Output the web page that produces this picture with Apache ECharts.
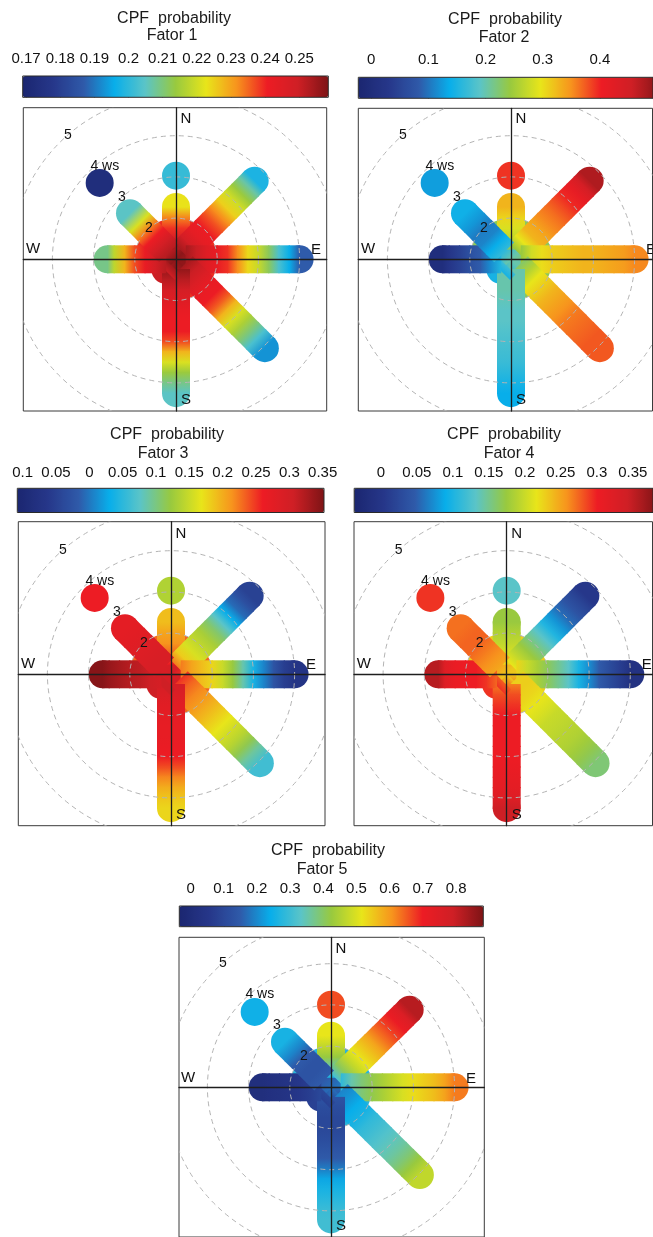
<!DOCTYPE html>
<html>
<head>
<meta charset="utf-8">
<title>CPF probability - Fator 1-5</title>
<script src="https://cdn.jsdelivr.net/npm/echarts@6.0.0/dist/echarts.min.js"></script>
<style>
  html, body { margin: 0; padding: 0; background: #fff; }
  #chart { width: 653px; height: 1237px; }
</style>
</head>
<body>
<div id="chart"></div>
<script>
// ---- data ----
const directions = ['N', 'NE', 'E', 'SE', 'S', 'SW', 'W', 'NW'];
const bearings = [0, 45, 90, 135, 180, 225, 270, 315];

// wind speed of each point along a direction (ws 1 sits on the centre)
const wsBins = {
  N:  [1.25, 1.5, 1.75, 2, 2.27, 3.03],
  NE: [1.25, 1.5, 1.75, 2, 2.25, 2.5, 2.75, 3, 3.25, 3.5, 3.7],
  E:  [1.25, 1.5, 1.75, 2, 2.25, 2.5, 2.75, 3, 3.25, 3.5, 3.75, 4],
  SE: [1.25, 1.5, 1.75, 2, 2.25, 2.5, 2.75, 3, 3.25, 3.5, 3.75, 4.05],
  S:  [1.25, 1.5, 1.75, 2, 2.25, 2.5, 2.75, 3, 3.25, 3.5, 3.75, 4, 4.25],
  SW: [1.2, 1.36],
  W:  [1.25, 1.5, 1.75, 2, 2.25, 2.5, 2.66],
  NW: [1.25, 1.5, 1.75, 2, 2.25, 2.58, 3.62]
};

const ringWs = [2, 3, 4, 5];
const ringLabels = ['2', '3', '4 ws', '5'];
const compassLabels = ['N', 'E', 'S', 'W'];

// CPF value at the calm centre of each plot
const centreValues = [0.257, 0.194, 0.297, 0.229, 0.168];

const fator1 = {
  N:  [0.254, 0.248, 0.239, 0.233, 0.223, 0.201],
  NE: [0.254, 0.248, 0.243, 0.241, 0.237, 0.232, 0.225, 0.220, 0.214, 0.207, 0.198],
  E:  [0.254, 0.250, 0.245, 0.242, 0.239, 0.232, 0.224, 0.219, 0.212, 0.203, 0.196, 0.187],
  SE: [0.254, 0.250, 0.246, 0.242, 0.241, 0.236, 0.228, 0.221, 0.216, 0.210, 0.203, 0.193],
  S:  [0.256, 0.252, 0.248, 0.245, 0.242, 0.241, 0.241, 0.237, 0.228, 0.221, 0.214, 0.209, 0.205],
  SW: [0.254, 0.250],
  W:  [0.252, 0.248, 0.242, 0.237, 0.228, 0.218, 0.209],
  NW: [0.252, 0.248, 0.241, 0.233, 0.221, 0.205, 0.173]
};
const fator2 = {
  N:  [0.225, 0.261, 0.277, 0.297, 0.318, 0.380],
  NE: [0.235, 0.287, 0.318, 0.328, 0.343, 0.354, 0.369, 0.385, 0.400, 0.431, 0.462],
  E:  [0.235, 0.271, 0.292, 0.302, 0.307, 0.313, 0.318, 0.318, 0.323, 0.328, 0.333, 0.343],
  SE: [0.220, 0.251, 0.287, 0.302, 0.318, 0.328, 0.338, 0.349, 0.354, 0.359, 0.364, 0.364],
  S:  [0.194, 0.194, 0.194, 0.189, 0.184, 0.184, 0.178, 0.173, 0.168, 0.163, 0.153, 0.142, 0.132],
  SW: [0.163, 0.142],
  W:  [0.148, 0.111, 0.081, 0.065, 0.044, 0.024, 0.003],
  NW: [0.158, 0.132, 0.106, 0.101, 0.117, 0.137, 0.122]
};
const fator3 = {
  N:  [0.260, 0.232, 0.214, 0.205, 0.191, 0.136],
  NE: [0.223, 0.182, 0.159, 0.145, 0.131, 0.108, 0.076, 0.030, -0.007, -0.030, -0.048],
  E:  [0.223, 0.205, 0.191, 0.177, 0.150, 0.122, 0.085, 0.039, 0.007, -0.025, -0.053, -0.071],
  SE: [0.251, 0.232, 0.219, 0.209, 0.196, 0.182, 0.168, 0.154, 0.140, 0.117, 0.090, 0.062],
  S:  [0.297, 0.288, 0.278, 0.274, 0.269, 0.269, 0.265, 0.260, 0.242, 0.219, 0.200, 0.186, 0.177],
  SW: [0.306, 0.306],
  W:  [0.297, 0.306, 0.315, 0.320, 0.329, 0.338, 0.347],
  NW: [0.292, 0.292, 0.288, 0.283, 0.278, 0.274, 0.260]
};
const fator4 = {
  N:  [0.220, 0.204, 0.191, 0.183, 0.171, 0.129],
  NE: [0.212, 0.191, 0.171, 0.150, 0.129, 0.100, 0.075, 0.054, 0.038, 0.021, 0.005],
  E:  [0.220, 0.195, 0.179, 0.162, 0.146, 0.129, 0.096, 0.071, 0.046, 0.029, 0.013, -0.008],
  SE: [0.224, 0.224, 0.220, 0.212, 0.204, 0.195, 0.191, 0.187, 0.183, 0.175, 0.166, 0.154],
  S:  [0.262, 0.278, 0.287, 0.295, 0.295, 0.295, 0.295, 0.295, 0.299, 0.303, 0.307, 0.316, 0.337],
  SW: [0.274, 0.287],
  W:  [0.270, 0.287, 0.295, 0.295, 0.299, 0.316, 0.349],
  NW: [0.245, 0.254, 0.262, 0.270, 0.270, 0.266, 0.287]
};
const fator5 = {
  N:  [0.268, 0.351, 0.424, 0.470, 0.516, 0.662],
  NE: [0.314, 0.406, 0.470, 0.516, 0.552, 0.589, 0.635, 0.671, 0.708, 0.754, 0.818],
  E:  [0.287, 0.351, 0.387, 0.415, 0.442, 0.470, 0.497, 0.525, 0.543, 0.561, 0.589, 0.626],
  SE: [0.195, 0.213, 0.241, 0.259, 0.287, 0.305, 0.323, 0.342, 0.360, 0.387, 0.424, 0.470],
  S:  [0.131, 0.113, 0.103, 0.103, 0.113, 0.131, 0.149, 0.186, 0.232, 0.259, 0.277, 0.296, 0.305],
  SW: [0.103, 0.085],
  W:  [0.103, 0.076, 0.058, 0.039, 0.030, 0.021, 0.012],
  NW: [0.149, 0.131, 0.131, 0.149, 0.195, 0.259, 0.250]
};
const fatorValues = [fator1, fator2, fator3, fator4, fator5];
const fatorNames = ['Fator 1', 'Fator 2', 'Fator 3', 'Fator 4', 'Fator 5'];

// colour bar ranges and tick labels
const cbRanges = [[0.169, 0.2585], [-0.0227, 0.493], [-0.108, 0.352], [-0.037, 0.378], [-0.034, 0.882]];
const cbTicks1 = [0.17, 0.18, 0.19, 0.2, 0.21, 0.22, 0.23, 0.24, 0.25];
const cbLabels1 = ['0.17', '0.18', '0.19', '0.2', '0.21', '0.22', '0.23', '0.24', '0.25'];
const cbTicks2 = [0, 0.1, 0.2, 0.3, 0.4];
const cbLabels2 = ['0', '0.1', '0.2', '0.3', '0.4'];
const cbTicks3 = [-0.1, -0.05, 0, 0.05, 0.1, 0.15, 0.2, 0.25, 0.3, 0.35];
const cbLabels3 = ['0.1', '0.05', '0', '0.05', '0.1', '0.15', '0.2', '0.25', '0.3', '0.35'];
const cbTicks4 = [0, 0.05, 0.1, 0.15, 0.2, 0.25, 0.3, 0.35];
const cbLabels4 = ['0', '0.05', '0.1', '0.15', '0.2', '0.25', '0.3', '0.35'];
const cbTicks5 = [0, 0.1, 0.2, 0.3, 0.4, 0.5, 0.6, 0.7, 0.8];
const cbLabels5 = ['0', '0.1', '0.2', '0.3', '0.4', '0.5', '0.6', '0.7', '0.8'];
const cbTicks = [cbTicks1, cbTicks2, cbTicks3, cbTicks4, cbTicks5];
const cbLabels = [cbLabels1, cbLabels2, cbLabels3, cbLabels4, cbLabels5];

// ---- layout (px) ----
const panels = [
  { cx: 176, cy: 259.3, box: [23.3, 107.7, 326.7, 411], bar: [22.7, 76, 328.3, 97.3], tx: [174, 172], ty: [19, 36], lm: 10 },
  { cx: 511, cy: 259.3, box: [358.3, 108.3, 652.5, 411], bar: [358.3, 77.3, 662, 98.3], tx: [505, 504], ty: [20, 37.5], lm: 10 },
  { cx: 171, cy: 674.3, box: [18.3, 521.7, 325, 825.7], bar: [17.3, 488.3, 324, 512.5], tx: [167, 163], ty: [435, 453.5], lm: 8 },
  { cx: 506.7, cy: 674.3, box: [354, 521.7, 652.5, 825.7], bar: [354.2, 488.3, 658, 512.5], tx: [504, 509], ty: [435, 453.5], lm: 8 },
  { cx: 331, cy: 1089.3, box: [179, 937.3, 484.3, 1241], bar: [179.3, 906, 483.3, 926.7], tx: [328, 322], ty: [851, 869.5], lm: 10 }
];
const U = 41.2;          // px per ws unit
const STRIP = 28;        // strip width, px
const DISK_R = 1.0;      // calm disc radius, ws units
const LABEL_BEARING = 319;
const compassPos = [[0.243, 3.40], [3.40, 0.218], [0.243, -3.42], [-3.47, 0.243]];
const FONT = '"Liberation Sans", Arial, sans-serif';

const palette = ['#1b2670', '#26378a', '#2f5aa9', '#08aeea', '#5ac4c8', '#98c93f',
                 '#e8e51a', '#f7941d', '#ed1c24', '#cf1f25', '#7e1416'];

const chart = echarts.init(document.getElementById('chart'));
const option = {
  animation: false,
  backgroundColor: '#fff',
  grid: [], xAxis: [], yAxis: [], series: [], visualMap: [], graphic: []
};

function hiddenAxis (extra) {
  return Object.assign({
    type: 'value',
    axisTick: { show: false },
    axisLabel: { show: false },
    splitLine: { show: false }
  }, extra);
}

// clip rectangle of the plot box
function boxClip (params) {
  const cs = params.coordSys;
  return { type: 'rect', shape: { x: cs.x, y: cs.y, width: cs.width, height: cs.height } };
}

panels.forEach((p, i) => {
  const g = option.grid.length;
  const lo = cbRanges[i][0], hi = cbRanges[i][1];
  // same palette as the colour bar
  const colourOf = v => echarts.color.lerp(Math.min(1, Math.max(0, (v - lo) / (hi - lo))), palette);

  // plot box
  option.grid.push({
    left: p.box[0], top: p.box[1],
    width: p.box[2] - p.box[0], height: p.box[3] - p.box[1],
    show: true, borderColor: '#3a3a3a', borderWidth: 1, backgroundColor: 'transparent'
  });
  const axisLine = { show: true, onZero: true, lineStyle: { color: '#1e1e1e', width: 1.3 } };
  option.xAxis.push(hiddenAxis({
    gridIndex: g, z: 5, axisLine: axisLine,
    min: (p.box[0] - p.cx) / U, max: (p.box[2] - p.cx) / U
  }));
  option.yAxis.push(hiddenAxis({
    gridIndex: g, z: 5, axisLine: axisLine,
    min: (p.cy - p.box[3]) / U, max: (p.cy - p.box[1]) / U
  }));

  // colour bar frame + ticks
  const cg = g + 1;
  const ticks = cbTicks[i], labels = cbLabels[i];
  option.grid.push({
    left: p.bar[0], top: p.bar[1],
    width: p.bar[2] - p.bar[0], height: p.bar[3] - p.bar[1],
    show: true, borderColor: '#2a2a2a', borderWidth: 1, backgroundColor: 'transparent', z: 5
  });
  option.xAxis.push({
    gridIndex: cg, type: 'value', position: 'top', min: lo, max: hi,
    axisLine: { show: false },
    axisTick: { show: true, length: 6, customValues: ticks, lineStyle: { color: '#333' } },
    axisLabel: {
      customValues: ticks, margin: p.lm, fontSize: 15, fontFamily: FONT, color: '#111',
      formatter: v => labels[ticks.findIndex(t => Math.abs(t - v) < 1e-9)]
    },
    splitLine: { show: false }
  });
  option.yAxis.push({ gridIndex: cg, type: 'value', min: 0, max: 1, show: false });

  // dashed ws rings + their labels
  option.series.push({
    type: 'custom', xAxisIndex: g, yAxisIndex: g, z: 4, silent: true,
    data: ringWs.map(w => [0, 0, w - 1]),
    encode: { x: 0, y: 1 },
    renderItem: (params, api) => {
      const k = params.dataIndex;
      const c = api.coord([0, 0]);
      const rad = api.size([api.value(2), 0])[0];
      const a = LABEL_BEARING * Math.PI / 180;
      const lx = c[0] + rad * Math.sin(a), ly = c[1] - rad * Math.cos(a);
      const wide = ringLabels[k].length > 1;
      return {
        type: 'group',
        clipPath: boxClip(params),
        children: [
          { type: 'circle', shape: { cx: c[0], cy: c[1], r: rad },
            style: { fill: 'none', stroke: '#b4b4b4', lineWidth: 1, lineDash: [5, 4] } },
          { type: 'text', x: wide ? lx - 4.5 : lx, y: ly,
            style: { text: ringLabels[k], fill: '#111', font: '14px ' + FONT,
                     align: wide ? 'left' : 'center', verticalAlign: 'middle' } }
        ]
      };
    }
  });

  // compass letters
  option.series.push({
    type: 'custom', xAxisIndex: g, yAxisIndex: g, z: 6, silent: true,
    data: compassPos,
    encode: { x: 0, y: 1 },
    renderItem: (params, api) => {
      const c = api.coord([api.value(0), api.value(1)]);
      return {
        type: 'group',
        clipPath: boxClip(params),
        children: [{ type: 'text', x: c[0], y: c[1],
          style: { text: compassLabels[params.dataIndex], fill: '#111', font: '15px ' + FONT,
                   align: 'center', verticalAlign: 'middle' } }]
      };
    }
  });

  const vals = fatorValues[i];
  // mean value where the strips leave the calm disc (ws 2)
  const edgeVals = directions.filter(d => wsBins[d].indexOf(2) >= 0).map(d => vals[d][wsBins[d].indexOf(2)]);
  const edgeMean = edgeVals.reduce((s, v) => s + v, 0) / edgeVals.length;

  // calm disc in the middle
  option.series.push({
    type: 'custom', xAxisIndex: g, yAxisIndex: g, z: 1, silent: true,
    data: [[0, 0, centreValues[i], edgeMean]],
    encode: { x: 0, y: 1 },
    renderItem: (params, api) => {
      const c = api.coord([api.value(0), api.value(1)]);
      const rad = api.size([DISK_R, 0])[0];
      return { type: 'sector',
        shape: { cx: c[0], cy: c[1], r: rad, r0: 0, startAngle: Math.PI, endAngle: Math.PI * 2.5, clockwise: true },
        style: { fill: { type: 'radial', x: c[0], y: c[1], r: rad, global: true,
          colorStops: [{ offset: 0, color: colourOf(api.value(2)) }, { offset: 1, color: colourOf(api.value(3)) }] } } };
    }
  });

  // strip pieces: from each point to the next one outward (starting at the centre)
  const inner = [], outer = [], caps = [];
  directions.forEach((d, j) => {
    const b = bearings[j] * Math.PI / 180;
    const sx = Math.sin(b), sy = Math.cos(b);
    const bins = wsBins[d];
    let prevR = 0, prevV = centreValues[i];
    bins.forEach((ws, k) => {
      const r = ws - 1;
      const v = vals[d][k];
      const gapBefore = k > 0 && ws - bins[k - 1] > 0.4;
      const gapAfter = k === bins.length - 1 || bins[k + 1] - ws > 0.4;
      if (!gapBefore) (k === 0 ? inner : outer).push([prevR * sx, prevR * sy, r * sx, r * sy, prevV, v]);
      if (gapAfter) caps.push([r * sx, r * sy, v]);
      prevR = r; prevV = v;
    });
  });
  const pieces = inner.concat(outer);

  // round ends and isolated points, coloured through the visualMap
  const capIdx = option.series.length;
  option.series.push({
    type: 'scatter', xAxisIndex: g, yAxisIndex: g, z: 2, silent: true,
    symbol: 'circle', symbolSize: STRIP,
    itemStyle: { opacity: 1 },
    emphasis: { disabled: true },
    data: caps
  });

  // straight pieces shaded from one value to the next
  option.series.push({
    type: 'custom', xAxisIndex: g, yAxisIndex: g, z: 3, silent: true,
    data: pieces,
    encode: { x: [0, 2], y: [1, 3] },
    renderItem: (params, api) => {
      const a = api.coord([api.value(0), api.value(1)]);
      const e = api.coord([api.value(2), api.value(3)]);
      const dx = e[0] - a[0], dy = e[1] - a[1];
      const len = Math.sqrt(dx * dx + dy * dy) || 1;
      const ox = dx / len * 0.6, oy = dy / len * 0.6;
      return {
        type: 'line',
        shape: { x1: a[0] - ox, y1: a[1] - oy, x2: e[0] + ox, y2: e[1] + oy },
        style: {
          lineWidth: STRIP, lineCap: 'butt',
          stroke: { type: 'linear', x: a[0], y: a[1], x2: e[0], y2: e[1], global: true,
            colorStops: [{ offset: 0, color: colourOf(api.value(4)) }, { offset: 1, color: colourOf(api.value(5)) }] }
        }
      };
    }
  });

  option.visualMap.push({
    type: 'continuous', min: lo, max: hi,
    dimension: 2, seriesIndex: [capIdx],
    orient: 'horizontal', left: p.bar[0], top: p.bar[1],
    itemWidth: p.bar[3] - p.bar[1], itemHeight: p.bar[2] - p.bar[0],
    padding: 0, calculable: false, hoverLink: false,
    inRange: { color: palette }
  });

  option.graphic.push(
    { type: 'text', x: p.tx[0], y: p.ty[0], silent: true,
      style: { text: 'CPF  probability', fill: '#1a1a1a', font: '16px ' + FONT, align: 'center', verticalAlign: 'middle' } },
    { type: 'text', x: p.tx[1], y: p.ty[1], silent: true,
      style: { text: fatorNames[i], fill: '#1a1a1a', font: '16px ' + FONT, align: 'center', verticalAlign: 'middle' } }
  );
});

chart.setOption(option);
</script>
</body>
</html>
